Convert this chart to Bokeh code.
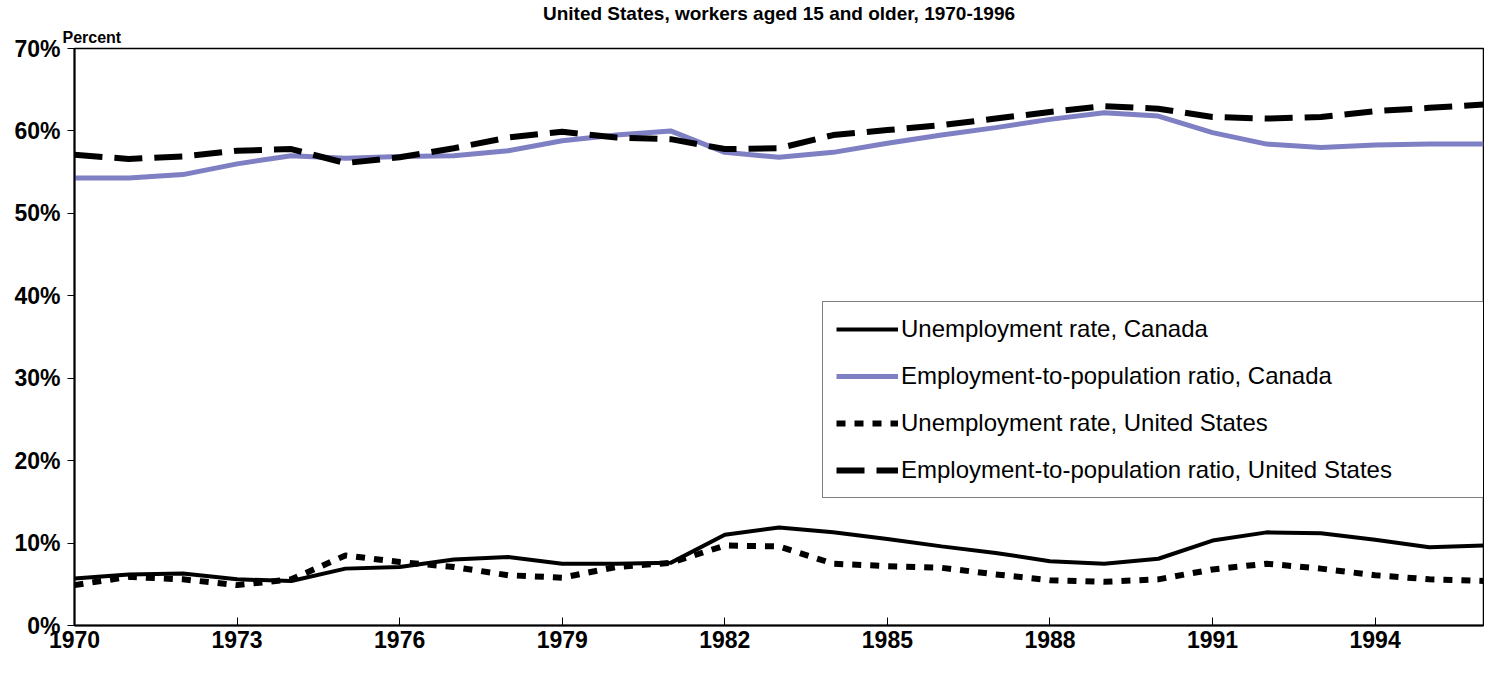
from bokeh.plotting import figure
from bokeh.models import Title, Legend, LegendItem, FixedTicker, ColumnDataSource
from bokeh.embed import file_html
from bokeh.resources import INLINE

# ---- data ----
years = list(range(1970, 1997))
ca_unemp = [5.7, 6.2, 6.3, 5.6, 5.4, 6.9, 7.1, 8.0, 8.3, 7.5, 7.5, 7.6, 11.0, 11.9,
            11.3, 10.5, 9.6, 8.8, 7.8, 7.5, 8.1, 10.3, 11.3, 11.2, 10.4, 9.5, 9.7]
ca_emp = [54.3, 54.3, 54.7, 56.0, 57.0, 56.7, 56.9, 57.0, 57.6, 58.8, 59.5, 60.0, 57.4, 56.8,
          57.4, 58.5, 59.5, 60.4, 61.4, 62.2, 61.8, 59.8, 58.4, 58.0, 58.3, 58.4, 58.4]
us_unemp = [4.9, 5.9, 5.6, 4.9, 5.6, 8.5, 7.7, 7.1, 6.1, 5.8, 7.1, 7.6, 9.7, 9.6,
            7.5, 7.2, 7.0, 6.2, 5.5, 5.3, 5.6, 6.8, 7.5, 6.9, 6.1, 5.6, 5.4]
us_emp = [57.1, 56.6, 56.9, 57.6, 57.8, 56.1, 56.8, 57.9, 59.2, 59.9, 59.2, 59.0, 57.8, 57.9,
          59.5, 60.1, 60.7, 61.5, 62.3, 63.0, 62.7, 61.7, 61.5, 61.7, 62.4, 62.8, 63.2]

series_names = ["Unemployment rate, Canada",
                "Employment-to-population ratio, Canada",
                "Unemployment rate, United States",
                "Employment-to-population ratio, United States"]
x_ticks = [1970, 1973, 1976, 1979, 1982, 1985, 1988, 1991, 1994]
y_ticks = [0, 10, 20, 30, 40, 50, 60, 70]
y_tick_labels = ["0%", "10%", "20%", "30%", "40%", "50%", "60%", "70%"]
title_text = "United States, workers aged 15 and older, 1970-1996"
y_unit_label = "Percent"

FONT = "Liberation Sans"

src = ColumnDataSource(dict(year=years, ca_unemp=ca_unemp, ca_emp=ca_emp,
                            us_unemp=us_unemp, us_emp=us_emp))

p = figure(width=1484, height=661, output_backend="svg", toolbar_location=None,
           title=None, x_range=(1970, 1996), y_range=(0, 70),
           min_border_left=74, min_border_right=1, min_border_bottom=36, min_border_top=0)

p.xgrid.visible = False
p.ygrid.visible = False
p.outline_line_color = "black"
p.outline_line_width = 1.5
p.background_fill_color = "white"
p.border_fill_color = "white"

# titles above (first added = closest to the frame)
pct = Title(text=y_unit_label, align="left", text_font=FONT, text_font_size="16px",
            text_font_style="bold", text_color="black", offset=-12, standoff=6)
p.add_layout(pct, "above")
main = Title(text=title_text, align="center", text_font=FONT, text_font_size="19px",
             text_font_style="bold", text_color="black", standoff=0)
p.add_layout(main, "above")

# axes
xa = p.xaxis[0]
xa.ticker = FixedTicker(ticks=x_ticks)
xa.major_label_overrides = {t: str(t) for t in x_ticks}
xa.major_tick_in = 8
xa.major_tick_out = 0
xa.minor_tick_line_color = None
xa.axis_line_width = 2
xa.axis_line_color = "black"
xa.major_tick_line_color = "black"
xa.major_tick_line_width = 1
xa.major_label_text_font = FONT
xa.major_label_text_font_style = "bold"
xa.major_label_text_font_size = "23px"
xa.major_label_text_color = "black"
xa.major_label_standoff = 5

ya = p.yaxis[0]
ya.ticker = FixedTicker(ticks=y_ticks)
ya.major_label_overrides = {t: l for t, l in zip(y_ticks, y_tick_labels)}
ya.major_tick_in = 0
ya.major_tick_out = 7
ya.minor_tick_line_color = None
ya.axis_line_width = 2
ya.axis_line_color = "black"
ya.major_tick_line_color = "black"
ya.major_tick_line_width = 1
ya.major_label_text_font = FONT
ya.major_label_text_font_style = "bold"
ya.major_label_text_font_size = "23px"
ya.major_label_text_color = "black"
ya.major_label_standoff = 7

# lines
r1 = p.line("year", "ca_unemp", source=src, line_color="black", line_width=4)
r2 = p.line("year", "ca_emp", source=src, line_color="#7f7fc4", line_width=5)
r3 = p.line("year", "us_unemp", source=src, line_color="black", line_width=6,
            line_dash="9 9", line_cap="butt")
r4 = p.line("year", "us_emp", source=src, line_color="black", line_width=6,
            line_dash="28 12", line_cap="butt")

legend = Legend(items=[LegendItem(label=n, renderers=[r]) for n, r in
                       zip(series_names, [r1, r2, r3, r4])],
                location=(748, 127))
legend.border_line_color = "black"
legend.border_line_width = 1
legend.background_fill_color = "white"
legend.background_fill_alpha = 1.0
legend.label_text_font = FONT
legend.label_text_font_size = "24px"
legend.label_text_color = "black"
legend.glyph_width = 62
legend.glyph_height = 20
legend.label_height = 20
legend.label_width = 570
legend.label_standoff = 3
legend.spacing = 19
legend.padding = 13
legend.margin = 0
p.add_layout(legend)

open("out.html", "w").write(file_html(p, INLINE))
